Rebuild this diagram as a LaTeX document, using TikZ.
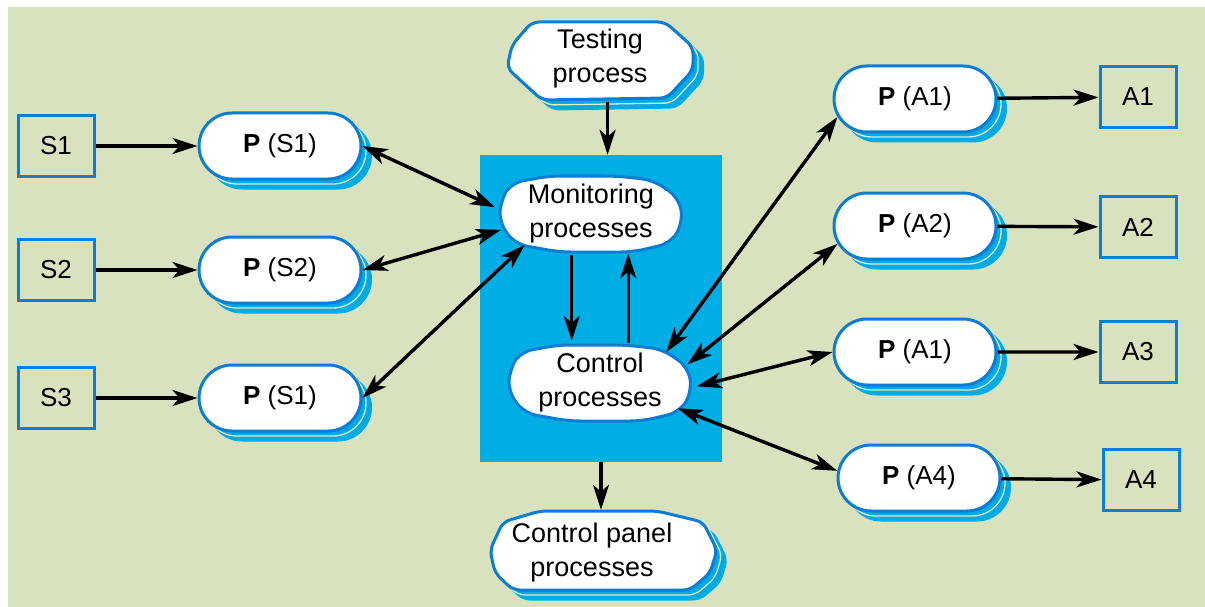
\documentclass[tikz,border=0pt]{standalone}
\usepackage{fontspec}
\setmainfont{Liberation Sans}
\usetikzlibrary{arrows.meta,shapes.misc,shapes.geometric,shadows}
\definecolor{bgGreen}{RGB}{217,226,190}
\definecolor{panelBlue}{RGB}{0,174,230}
\definecolor{edgeBlue}{RGB}{12,125,212}
\definecolor{shadeBlue}{RGB}{0,170,228}
\definecolor{shadeLine}{RGB}{225,236,205}
\begin{document}
\begin{tikzpicture}[x=1pt,y=-1pt,
  every node/.style={font=\fontsize{26}{33}\selectfont, align=center},
  bigtext/.style={font=\fontsize{27}{34}\selectfont},
  boxnode/.style={draw=edgeBlue, line width=3pt, minimum width=76pt, minimum height=61pt, inner sep=0pt},
  twoshadow/.style={
    copy shadow={shadow xshift=10pt, shadow yshift=-9.5pt, fill=shadeBlue, draw=shadeBlue, line width=2pt},
    copy shadow={shadow xshift=5pt, shadow yshift=-5pt, fill=shadeBlue, draw=shadeLine, line width=1.3pt}},
  pnode/.style={rounded rectangle, draw=edgeBlue, line width=3pt, fill=white,
    minimum width=162pt, minimum height=66pt, inner sep=0pt, twoshadow},
  outline/.style={draw=edgeBlue, line width=3pt, fill=white, rounded corners=7pt},
  anchornode/.style={ellipse, inner sep=0pt, bigtext},
  tip/.tip={Stealth[length=25pt,width=16pt,inset=7pt]},
  link/.style={line width=3.4pt, -tip},
  biglink/.style={line width=3.4pt, tip-tip},
]
% canvas
\fill[white] (0,0) rectangle (1205,607);
\fill[bgGreen] (8,7) rectangle (1205,607);
\path[use as bounding box] (0,0) rectangle (1205,607);

% central panel
\node[fill=panelBlue, minimum width=242pt, minimum height=307pt, inner sep=0pt] (panel) at (601,308.5) {};

% testing process
\begin{scope}[shift={(600,59)}]
  \draw[outline, twoshadow] (-68,-37) -- (65,-37) -- (93,-12) -- (93,11) -- (67,39)
    -- (-58,41) -- (-93,9) -- (-88,-14) -- cycle;
\end{scope}
\node[anchornode, minimum width=190pt, minimum height=86pt] (test) at (600,59) {Testing\\process};

% monitoring processes
\begin{scope}[shift={(591,214)}]
  \draw[outline, rounded corners=12pt] (-80,-31) -- (-42,-38) -- (25,-38) -- (62,-34) -- (88,-16)
    -- (92,8) -- (80,29) -- (42,38) -- (-32,38) -- (-76,30) -- (-92,8) -- (-90,-14) -- cycle;
\end{scope}
\node[anchornode, minimum width=194pt, minimum height=84pt] (mon) at (591,214) {Monitoring\\processes};

% control processes
\begin{scope}[shift={(600,383)}]
  \draw[outline, rounded corners=12pt] (-80,-31) -- (-42,-38) -- (25,-38) -- (62,-34) -- (88,-16)
    -- (92,8) -- (80,29) -- (42,38) -- (-32,38) -- (-76,30) -- (-92,8) -- (-90,-14) -- cycle;
\end{scope}
\node[anchornode, minimum width=194pt, minimum height=84pt] (ctl) at (600,383) {Control\\processes};

% control panel processes
\begin{scope}[shift={(602,553)}]
  \draw[outline, twoshadow] (-99,-31) -- (-62,-42) -- (55,-42) -- (101,-31) -- (115,-3)
    -- (108,20) -- (88,37) -- (-89,37) -- (-107,20) -- (-112,-3) -- cycle;
\end{scope}
\node[anchornode, minimum width=230pt, minimum height=86pt] (cpanel) at (592,553) {Control panel\\processes};

% sensors
\node[boxnode] (s1) at (56,146) {S1};
\node[boxnode] (s2) at (56,270) {S2};
\node[boxnode] (s3) at (56,398) {S3};

% sensor processes
\node[pnode] (ps1) at (280,146) {\textbf{P} (S1)};
\node[pnode] (ps2) at (280,270) {\textbf{P} (S2)};
\node[pnode] (ps3) at (280,398) {\textbf{P} (S1)};

% actuator processes
\node[pnode] (pa1) at (915,99) {\textbf{P} (A1)};
\node[pnode] (pa2) at (915,226) {\textbf{P} (A2)};
\node[pnode] (pa3) at (915,352) {\textbf{P} (A1)};
\node[pnode] (pa4) at (919,478) {\textbf{P} (A4)};

% actuators
\node[boxnode] (a1) at (1138,97) {A1};
\node[boxnode] (a2) at (1138,227) {A2};
\node[boxnode] (a3) at (1138,352) {A3};
\node[boxnode] (a4) at (1141,480) {A4};

% sensor inputs
\draw[link] (s1) -- (ps1);
\draw[link] (s2) -- (ps2);
\draw[link] (s3) -- (ps3);

% actuator outputs
\draw[link] (pa1) -- (a1);
\draw[link] (pa2) -- (a2);
\draw[link] (pa3) -- (a3);
\draw[link] (pa4) -- (a4);

% sensor processes to monitoring
\draw[biglink] (ps1.east) -- (mon.176);
\draw[biglink] (ps2.east) -- (mon.190);
\draw[biglink] (ps3.east) -- (mon.205);

% control to actuator processes
\draw[biglink] (ctl.25) -- (pa1.193);
\draw[biglink] (ctl.12) -- (pa2.193);
\draw[biglink] (ctl.358) -- (pa3.west);
\draw[biglink] (ctl.-18) -- (pa4.175);

% vertical flows
\draw[link] (test.-80) -- (test.-80 |- panel.north);
\draw[link] (mon.245) -- (mon.245 |- ctl.north);
\draw[link] (ctl.55) -- (ctl.55 |- mon.311);
\draw[link] (panel.south) -- (panel.south |- cpanel.north);
\end{tikzpicture}
\end{document}
